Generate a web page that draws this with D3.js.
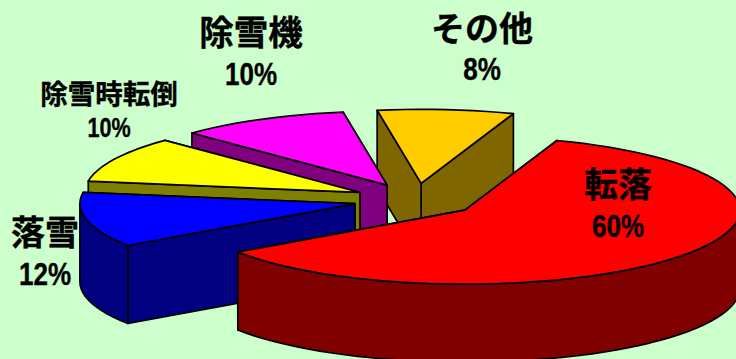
<!DOCTYPE html>
<html>
<head>
<meta charset="utf-8">
<script src="https://cdn.jsdelivr.net/npm/d3@7/dist/d3.min.js"></script>
<style>
html,body{margin:0;padding:0;background:#CCFFCC;overflow:hidden}
svg{display:block}
text{font-family:"Liberation Sans","Noto Sans CJK JP",sans-serif;font-weight:bold;fill:#000;stroke:#000;stroke-width:0.35;text-anchor:middle}
</style>
</head>
<body>
<svg id="chart" width="736" height="359"></svg>
<script>
// Accident categories and their share in percent
const categories = ["転落", "落雪", "除雪時転倒", "除雪機", "その他"];
const shares = [60, 12, 10, 10, 8];
const topColors = ["#FF0000", "#0000FF", "#FFFF00", "#FF00FF", "#FFCC00"];
const sideColors = ["#800000", "#000080", "#808000", "#800080", "#806600"];

// Pie geometry
const width = 736, height = 359;
const centerX = 415.5, centerY = 200, radiusX = 275, radiusY = 74;
const depth = 78, explode = 0.226;
const firstAngle = 19.6 * Math.PI / 180;
const rimStep = 3 * Math.PI / 180;

// Label placement: centre of the name line and of the value line, with font sizes
const labelLayout = [
  {x: 618, nameY: 185, valueY: 226, nameSize: 34, valueSize: 31, valueSqueeze: 0.84},
  {x: 45,  nameY: 233, valueY: 274, nameSize: 34, valueSize: 31, valueSqueeze: 0.84},
  {x: 109, nameY: 94,  valueY: 128, nameSize: 27.5, valueSize: 27, valueSqueeze: 0.8},
  {x: 251, nameY: 33,  valueY: 74,  nameSize: 34.5, valueSize: 31, valueSqueeze: 0.84},
  {x: 482, nameY: 29,  valueY: 69,  nameSize: 34, valueSize: 31, valueSqueeze: 0.84}
];

const svg = d3.select("#chart");
svg.append("rect").attr("width", width).attr("height", height).attr("fill", "#CCFFCC");

const px = d3.scaleLinear().domain([-1, 1]).range([centerX - radiusX, centerX + radiusX]);
const py = d3.scaleLinear().domain([-1, 1]).range([centerY - radiusY, centerY + radiusY]);

const pie = d3.pie().sort(null).startAngle(firstAngle).endAngle(firstAngle + 2 * Math.PI);
const slices = pie(shares).map((d, i) => {
  const mid = (d.startAngle + d.endAngle) / 2;
  return {
    ...d, i,
    ox: explode * Math.sin(mid),
    oy: -explode * Math.cos(mid)
  };
});

const line = d3.line().curve(d3.curveLinearClosed);

// Point on the exploded slice's rim (r = 1) or apex (r = 0), lowered by drop pixels
function point(s, angle, r, drop = 0) {
  return [px(s.ox + r * Math.sin(angle)), py(s.oy - r * Math.cos(angle)) + drop];
}

function rimAngles(a0, a1) {
  const n = Math.max(1, Math.ceil((a1 - a0) / rimStep));
  return d3.range(n + 1).map(k => a0 + (a1 - a0) * k / n);
}

// Faces of the cut at one side of a slice
function cutFace(s, angle) {
  return [point(s, angle, 0), point(s, angle, 1), point(s, angle, 1, depth), point(s, angle, 0, depth)];
}

// Outer wall, limited to the part of the rim facing the viewer
function outerWall(s) {
  const a0 = Math.max(s.startAngle, Math.PI / 2);
  const a1 = Math.min(s.endAngle, 3 * Math.PI / 2);
  if (a1 <= a0) return null;
  const angles = rimAngles(a0, a1);
  return [
    ...angles.map(a => point(s, a, 1)),
    ...angles.slice().reverse().map(a => point(s, a, 1, depth))
  ];
}

function topFace(s) {
  return [point(s, s.startAngle, 0), ...rimAngles(s.startAngle, s.endAngle).map(a => point(s, a, 1))];
}

// Painter's order, furthest slice first
const drawOrder = [4, 3, 2, 1, 0];

function face(g, pts, fill) {
  g.append("path").attr("d", line(pts)).attr("fill", fill)
    .attr("stroke", "#000").attr("stroke-width", 1.7).attr("stroke-linejoin", "round");
}

drawOrder.forEach(idx => {
  const s = slices[idx];
  const g = svg.append("g").attr("class", "slice");
  face(g, cutFace(s, s.endAngle), sideColors[idx]);
  face(g, cutFace(s, s.startAngle), sideColors[idx]);
  const wall = outerWall(s);
  if (wall) face(g, wall, sideColors[idx]);
  face(g, topFace(s), topColors[idx]);
});

// Name and percentage above each other
categories.forEach((name, i) => {
  const l = labelLayout[i];
  svg.append("text").attr("x", l.x).attr("y", l.nameY)
    .attr("dominant-baseline", "central").attr("font-size", l.nameSize).text(name);
  svg.append("text").attr("transform", `translate(${l.x},${l.valueY}) scale(${l.valueSqueeze},1)`)
    .attr("dominant-baseline", "central").attr("font-size", l.valueSize).text(shares[i] + "%");
});
</script>
</body>
</html>
